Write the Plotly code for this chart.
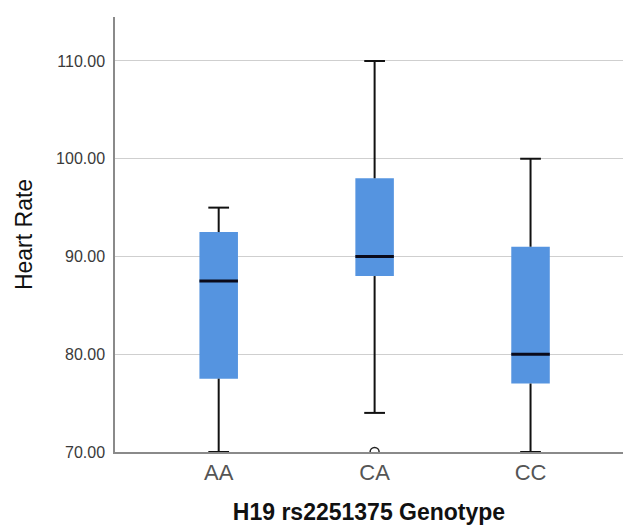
import plotly.graph_objects as go

# ---- data ----
genotypes = ["AA", "CA", "CC"]
lower_whisker = [70, 74, 70]
q1 = [77.5, 88, 77]
median = [87.5, 90, 80]
q3 = [92.5, 98, 91]
upper_whisker = [95, 110, 100]
outlier_group = ["CA"]
outlier_value = [70]
y_ticks = [70, 80, 90, 100, 110]

BOX_W = 0.247
CAP_W = 0.133
FILL = "#5594E0"

pos = list(range(len(genotypes)))

fig = go.Figure()

# boxes (Q1 -> Q3)
fig.add_trace(go.Bar(
    x=pos, base=q1, y=[b - a for a, b in zip(q1, q3)],
    width=BOX_W, marker=dict(color=FILL, line=dict(width=0)),
    hoverinfo="skip", showlegend=False))

# whiskers + caps
wx, wy = [], []
for i in pos:
    wx += [i, i, None, i - CAP_W / 2, i + CAP_W / 2, None,
           i, i, None, i - CAP_W / 2, i + CAP_W / 2, None]
    wy += [q3[i], upper_whisker[i], None, upper_whisker[i], upper_whisker[i], None,
           q1[i], lower_whisker[i], None, lower_whisker[i], lower_whisker[i], None]
fig.add_trace(go.Scatter(x=wx, y=wy, mode="lines",
                         line=dict(color="#111111", width=2),
                         hoverinfo="skip", showlegend=False, cliponaxis=False))

# medians
mx, my = [], []
for i in pos:
    mx += [i - BOX_W / 2, i + BOX_W / 2, None]
    my += [median[i], median[i], None]
fig.add_trace(go.Scatter(x=mx, y=my, mode="lines",
                         line=dict(color="#0a0a1a", width=3),
                         hoverinfo="skip", showlegend=False))

# outliers
fig.add_trace(go.Scatter(
    x=[genotypes.index(g) for g in outlier_group], y=outlier_value,
    mode="markers",
    marker=dict(symbol="circle-open", size=9, color="#222222", line=dict(width=1.5)),
    showlegend=False, cliponaxis=True))

fig.update_layout(
    width=623, height=525,
    margin=dict(l=115, r=0, t=17, b=73),
    plot_bgcolor="white", paper_bgcolor="white",
    font=dict(family="Liberation Sans, Arial, sans-serif", color="#333333"),
    showlegend=False,
    xaxis=dict(
        range=[-0.665, 2.593],
        tickmode="array", tickvals=pos, ticktext=genotypes,
        tickfont=dict(size=22, color="#555555"),
        showgrid=False, zeroline=False,
        showline=True, linecolor="#8a8a8a", linewidth=1.5,
        ticks="", ticklabelstandoff=0,
        title=dict(text="<b>H19 rs2251375 Genotype</b>",
                   font=dict(size=23, color="#111111"), standoff=22),
    ),
    yaxis=dict(
        range=[70, 114.5],
        tickmode="array", tickvals=y_ticks, tickformat=".2f",
        tickfont=dict(size=16, color="#3a3a3a"),
        showgrid=True, gridcolor="#cfcfcf", gridwidth=1,
        zeroline=False,
        showline=True, linecolor="#8a8a8a", linewidth=1.5,
        ticks="", ticklabelstandoff=5,
        title=dict(text="Heart Rate", font=dict(size=23, color="#111111"), standoff=17),
    ),
)

fig.write_html("out.html",
               config={"displayModeBar": False},
               post_script="document.body.style.margin='0';document.body.style.padding='0';")
